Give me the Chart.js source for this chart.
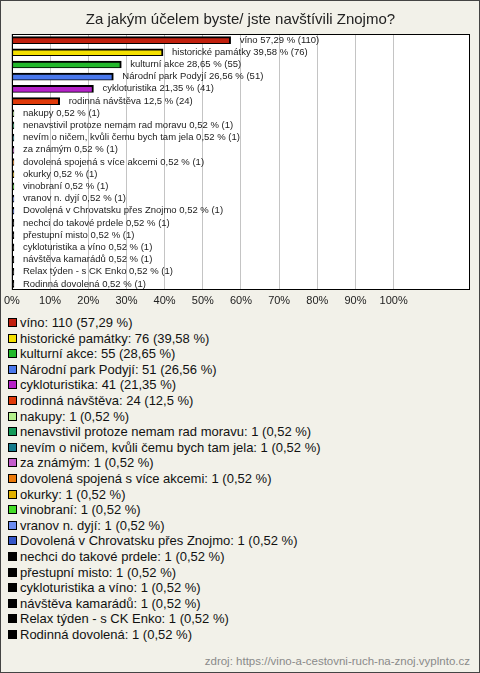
<!DOCTYPE html>
<html>
<head>
<meta charset="utf-8">
<script src="https://cdn.jsdelivr.net/npm/chart.js@4.4.1/dist/chart.umd.min.js"></script>
<style>
    html, body { margin: 0; padding: 0; }
    body { width: 480px; height: 673px; overflow: hidden; font-family: "Liberation Sans", Arial, sans-serif; }
    #wrap {
        position: relative; width: 480px; height: 673px; box-sizing: border-box;
        background: #f2f1e9; border: 1px solid #444;
    }
    #chartBox { position: absolute; left: -1px; top: -1px; width: 480px; height: 312px; }
    #legend { position: absolute; left: 7px; top: 314px; margin: 0; padding: 0; list-style: none; }
    #legend li { height: 15.6px; line-height: 15.6px; font-size: 13px; color: #111; white-space: nowrap; }
    #legend .sw {
        display: inline-block; width: 7px; height: 7px; border: 1px solid #000;
        margin-right: 3px; vertical-align: 0px;
    }
    #source { position: absolute; right: 9px; top: 654px; font-size: 11.5px; color: #8a8a8a; }
</style>
</head>
<body>
<div id="wrap">
    <div id="chartBox"><canvas id="purposeChart"></canvas></div>
    <ul id="legend"></ul>
    <div id="source">zdroj: https://vino-a-cestovni-ruch-na-znoj.vyplnto.cz</div>
</div>
<script>
// Data
const categories = [
    'víno', 'historické památky', 'kulturní akce', 'Národní park Podyjí', 'cykloturistika',
    'rodinná návštěva', 'nakupy', 'nenavstivil protoze nemam rad moravu',
    'nevím o ničem, kvůli čemu bych tam jela', 'za známým', 'dovolená spojená s více akcemi',
    'okurky', 'vinobraní', 'vranov n. dyjí', 'Dovolená v Chrovatsku přes Znojmo',
    'nechci do takové prdele', 'přestupní misto', 'cykloturistika a víno',
    'návštěva kamarádů', 'Relax týden - s CK Enko', 'Rodinná dovolená'
];
const counts = [110, 76, 55, 51, 41, 24, 1, 1, 1, 1, 1, 1, 1, 1, 1, 1, 1, 1, 1, 1, 1];
const percentLabels = [
    '57,29', '39,58', '28,65', '26,56', '21,35', '12,5', '0,52', '0,52', '0,52', '0,52', '0,52',
    '0,52', '0,52', '0,52', '0,52', '0,52', '0,52', '0,52', '0,52', '0,52', '0,52'
];
const barColors = [
    '#c1200e', '#f4e000', '#22b82a', '#4a78ec', '#b522c8', '#e03a0a', '#b4f08c', '#139a5a',
    '#137a8c', '#c45ccc', '#ec7a0a', '#e0b000', '#44dc28', '#6c8cf0', '#3456c8',
    '#000000', '#000000', '#000000', '#000000', '#000000', '#000000'
];
const xTicks = [0, 10, 20, 30, 40, 50, 60, 70, 80, 90, 100];

const percentValues = percentLabels.map(p => parseFloat(p.replace(',', '.')));

// Legend (HTML list below the plot)
const legendEl = document.getElementById('legend');
categories.forEach((cat, i) => {
    const li = document.createElement('li');
    const sw = document.createElement('span');
    sw.className = 'sw';
    sw.style.background = barColors[i];
    li.appendChild(sw);
    li.appendChild(document.createTextNode(`${cat}: ${counts[i]} (${percentLabels[i]} %)`));
    legendEl.appendChild(li);
});

// White plot background + black frame
const plotFrame = {
    id: 'plotFrame',
    beforeDraw(chart) {
        const { ctx, chartArea: a } = chart;
        ctx.save();
        ctx.fillStyle = '#ffffff';
        ctx.fillRect(a.left, a.top, a.right - a.left, a.bottom - a.top);
        ctx.restore();
    },
    afterDraw(chart) {
        const { ctx, chartArea: a } = chart;
        ctx.save();
        ctx.strokeStyle = '#000';
        ctx.lineWidth = 1;
        ctx.strokeRect(Math.round(a.left) + 0.5, Math.round(a.top) + 0.5,
            Math.round(a.right - a.left) - 1, Math.round(a.bottom - a.top) - 1);
        ctx.restore();
    }
};

// Text at the end of each bar
const barLabels = {
    id: 'barLabels',
    afterDatasetsDraw(chart) {
        const { ctx } = chart;
        const meta = chart.getDatasetMeta(0);
        ctx.save();
        ctx.font = '9.5px "Liberation Sans", Arial, sans-serif';
        ctx.fillStyle = '#222';
        ctx.textBaseline = 'middle';
        meta.data.forEach((bar, i) => {
            ctx.fillText(`${categories[i]} ${percentLabels[i]} % (${counts[i]})`, bar.x + 9, bar.y);
        });
        ctx.restore();
    }
};

const ctx = document.getElementById('purposeChart').getContext('2d');
new Chart(ctx, {
    type: 'bar',
    data: {
        labels: categories,
        datasets: [{
            data: percentValues,
            backgroundColor: barColors,
            borderColor: '#000',
            borderWidth: { top: 2, right: 2, bottom: 1, left: 1 },
            borderSkipped: false,
            barThickness: 7
        }]
    },
    options: {
        indexAxis: 'y',
        responsive: true,
        maintainAspectRatio: false,
        animation: false,
        layout: { padding: { left: 11, right: 10, top: 0, bottom: 0 } },
        plugins: {
            legend: { display: false },
            tooltip: { enabled: false },
            title: {
                display: true,
                text: 'Za jakým účelem byste/ jste navštívili Znojmo?',
                color: '#222',
                font: { size: 15, family: '"Liberation Sans", Arial, sans-serif', weight: 'normal' },
                padding: { top: 11, bottom: 5 }
            }
        },
        scales: {
            x: {
                min: 0,
                max: 120,
                afterFit(scale) { scale.height = 22; },
                afterBuildTicks(scale) {
                    scale.ticks = xTicks.map(v => ({ value: v }));
                },
                grid: { color: '#c4c4c4', drawTicks: false },
                border: { display: false },
                ticks: {
                    padding: 4,
                    color: '#222',
                    font: { size: 11, family: '"Liberation Sans", Arial, sans-serif' },
                    maxRotation: 0,
                    callback: v => v + '%'
                }
            },
            y: {
                display: false
            }
        }
    },
    plugins: [plotFrame, barLabels]
});
</script>
</body>
</html>
